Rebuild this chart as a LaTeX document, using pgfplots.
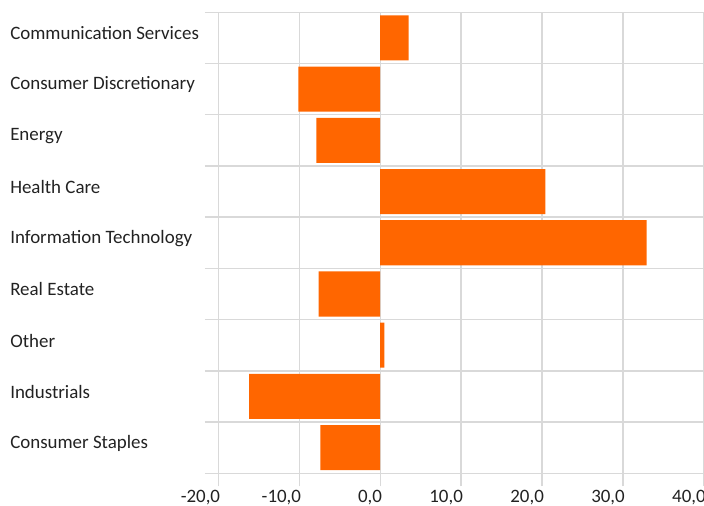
\documentclass[border=0pt]{standalone}
\usepackage{pgfplots}
\pgfplotsset{compat=1.18}
\usepackage{fontspec}
\setmainfont{Carlito}
\definecolor{barorange}{HTML}{FF6600}
\definecolor{gridgray}{HTML}{D9D9D9}
\definecolor{txt}{HTML}{222222}
\begin{document}
\begin{tikzpicture}[x=1pt,y=1pt]
\begin{axis}[
  name=ax,
  scale only axis,
  width=374.25pt, height=345.75pt,
  xmin=-21.65, xmax=40,
  ymin=-0.5, ymax=8.5,
  y dir=reverse,
  axis line style={draw=none},
  xtick={-20,-10,...,40},
  xmajorgrids,
  grid style={gridgray, line width=1.1pt},
  minor grid style={gridgray, line width=1.1pt},
  xtick pos=bottom,
  tick align=outside,
  major tick length=9.75pt,
  x tick style={gridgray, line width=1.1pt},
  xticklabel style={anchor=north east, inner sep=0pt, xshift=1.5pt, yshift=-2.5pt},
  /pgf/number format/.cd, fixed, fixed zerofill, precision=1, use comma, assume math mode=true,
  /pgfplots/.cd,
  ytick={0,...,8},
  yticklabels={Communication Services,Consumer Discretionary,Energy,Health Care,Information Technology,Real Estate,Other,Industrials,Consumer Staples},
  y tick style={draw=none},
  minor ytick={-0.5,0.5,...,8.5},
  yminorgrids,
  ymajorgrids=false,
  yticklabel style={anchor=west, inner sep=0pt, xshift=-136.5pt, yshift=3.5pt},
  tick label style={font=\fontsize{14.2}{17}\selectfont, text=txt},
  xbar,
  bar width=0.88,
]
\addplot[draw=none, fill=barorange] coordinates {
  (3.5,0) (-10.1,1) (-7.9,2) (20.4,3) (32.9,4) (-7.6,5) (0.5,6) (-16.2,7) (-7.4,8)
};
\end{axis}
\pgfresetboundingbox
\path ([xshift=-153.75pt, yshift=-24.5pt]ax.south west) rectangle ([yshift=9.2pt]ax.north east);
\end{tikzpicture}
\end{document}
